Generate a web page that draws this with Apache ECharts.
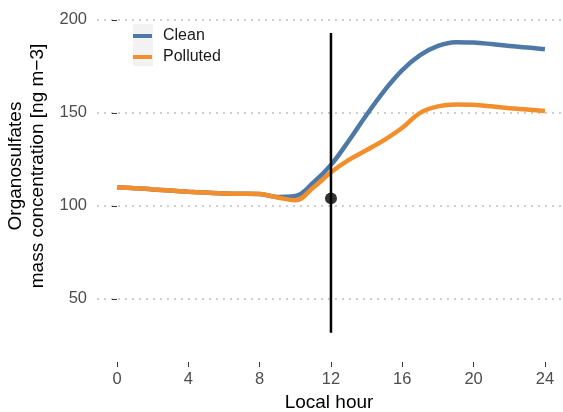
<!DOCTYPE html>
<html>
<head>
<meta charset="utf-8">
<script src="https://cdn.jsdelivr.net/npm/echarts@6/dist/echarts.min.js"></script>
<style>
  html, body { margin: 0; padding: 0; background: #fff; }
  #chart { width: 563px; height: 412px; }
</style>
</head>
<body>
<div id="chart"></div>
<script>
// hours and smoothed concentrations
const hours = [0, 1, 2, 3, 4, 5, 6, 7, 8, 9, 10, 11, 12, 13, 14, 15, 16, 17, 18, 19, 20, 21, 22, 23, 24]
const clean = [110, 109.5, 108.8, 108.2, 107.6, 107.1, 106.6, 106.5, 106.3, 104.8, 105.3, 112.4, 122, 135, 149, 162, 173, 181, 186, 188, 187.8, 187, 186, 185.2, 184.2]
const polluted = [110, 109.5, 108.8, 108.2, 107.6, 107.1, 106.6, 106.5, 106.3, 104.5, 103, 109.7, 118, 124.7, 130, 135.5, 142, 150, 153.5, 154.5, 154.3, 153.5, 152.5, 151.8, 151]
// mean and range marker at noon
const markerHour = 12
const markerMean = 104
const markerLow = 31.7
const markerHigh = 193
const xTicks = [0, 4, 8, 12, 16, 20, 24]
const yTicks = [50, 100, 150, 200]

const font = 'Liberation Sans, Arial, Helvetica, sans-serif'
const chart = echarts.init(document.getElementById('chart'))

const option = {
  animation: false,
  backgroundColor: '#fff',
  grid: {
    left: 97,
    top: 5,
    width: 464,
    height: 357,
    outerBoundsMode: 'none'
  },
  legend: {
    orient: 'vertical',
    left: 133,
    top: 28,
    padding: 0,
    itemWidth: 19,
    itemHeight: 4,
    itemGap: 5,
    icon: 'rect',
    data: ['Clean', 'Polluted'],
    textStyle: { fontFamily: font, fontSize: 16, color: '#1a1a1a', lineHeight: 16, padding: [0, 0, 0, 6] }
  },
  graphic: [{
    type: 'rect',
    z: 0,
    silent: true,
    shape: { x: 133, y: 24, width: 20, height: 42 },
    style: { fill: '#f2f2f2' }
  }],
  xAxis: {
    type: 'value',
    min: -1.12,
    max: 24.9,
    name: 'Local hour',
    nameLocation: 'middle',
    nameGap: 31,
    nameTextStyle: { fontFamily: font, fontSize: 19, color: '#000' },
    axisLine: { show: false },
    axisTick: { show: true, length: 5, customValues: xTicks, lineStyle: { color: '#333', width: 1 } },
    axisLabel: { customValues: xTicks, margin: 9, fontFamily: font, fontSize: 16.5, color: '#4d4d4d' },
    splitLine: { show: false }
  },
  yAxis: {
    type: 'value',
    min: 16,
    max: 208,
    name: 'Organosulfates\nmass concentration [ng m\u22123]',
    nameLocation: 'middle',
    nameGap: 42,
    nameRotate: 90,
    nameTextStyle: { fontFamily: font, fontSize: 19, color: '#000', lineHeight: 22, padding: [0, 0, 0, 35] },
    axisLine: { show: false },
    axisTick: { show: true, length: 5, customValues: yTicks, lineStyle: { color: '#333', width: 1 } },
    axisLabel: { customValues: yTicks, margin: 10, fontFamily: font, fontSize: 16.5, color: '#4d4d4d' },
    splitLine: { show: true, lineStyle: { color: '#bdbdbd', width: 1.6, type: [2, 5] } }
  },
  series: [
    {
      name: 'Clean',
      type: 'line',
      smooth: 0.4,
      showSymbol: false,
      color: '#4e79a7',
      lineStyle: { width: 4.5 },
      data: hours.map((h, i) => [h, clean[i]])
    },
    {
      name: 'Polluted',
      type: 'line',
      smooth: 0.4,
      showSymbol: false,
      color: '#f28e2b',
      lineStyle: { width: 4.5 },
      data: hours.map((h, i) => [h, polluted[i]])
    },
    {
      name: 'range',
      type: 'line',
      showSymbol: false,
      color: '#000',
      lineStyle: { width: 2.5 },
      z: 5,
      data: [[markerHour, markerLow], [markerHour, markerHigh]]
    },
    {
      name: 'mean',
      type: 'scatter',
      symbolSize: 12,
      color: '#000',
      z: 6,
      data: [[markerHour, markerMean]]
    }
  ]
}

chart.setOption(option)
</script>
</body>
</html>
